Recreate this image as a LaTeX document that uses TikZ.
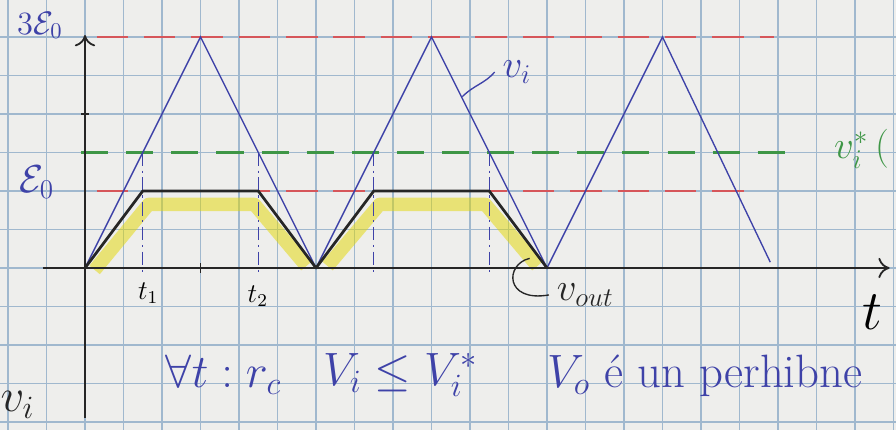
\documentclass[tikz,border=0pt]{standalone}
\usepackage{amsmath}
\usepackage{amssymb}
\usetikzlibrary{arrows.meta}
\definecolor{inkblue}{RGB}{62,66,168}
\definecolor{inkred}{RGB}{214,86,90}
\definecolor{inkgreen}{RGB}{62,150,70}
\definecolor{gridblue}{RGB}{160,184,206}
\definecolor{paper}{RGB}{238,238,236}
\newcommand{\Ezero}{\mathcal{E}_0}

\begin{document}
\begin{tikzpicture}[x=0.6cm,y=0.6cm]
    % paper and squares
    \fill[paper] (-2.208,-4.208) rectangle (21.065,6.961);
    \useasboundingbox (-2.208,-4.208) rectangle (21.065,6.961);
    \draw[gridblue, line width=0.6pt, step=0.6cm] (-2.208,-4.208) grid (21.065,6.961);

    \coordinate (xs) at (-1.1,0);
    \coordinate (xe) at (20.9,0);
    \coordinate (ys) at (0,-3.9);
    \coordinate (ye) at (0,6.05);

    % levels
    \draw[inkred, thick, dash pattern=on 14pt off 7pt] (0.3,6) -- (17.9,6);
    \draw[inkred, thick, dash pattern=on 14pt off 7pt] (0.3,2) -- (17.5,2);
    \draw[inkgreen, very thick, dash pattern=on 12pt off 8pt] (-0.1,3) -- (18.3,3);

    % highlight under the output
    \draw[yellow!75!olive, line width=6pt, opacity=0.5, line join=round]
        (0.25,-0.05) -- (1.65,1.65) -- (4.4,1.65) -- (5.75,0.05)
        (6.3,0.05) -- (7.65,1.65) -- (10.4,1.65) -- (11.75,0.05);

    % instants t1, t2
    \foreach \tx in {1.5,4.5,7.5,10.5}
        \draw[inkblue, thin, dash pattern=on 6pt off 2pt on 1pt off 2pt] (\tx,3) -- (\tx,-0.2);

    % input
    \draw[inkblue, semithick] (0,0) -- (3,6) -- (6,0) -- (9,6) -- (12,0) -- (15,6) -- (17.8,0.15);

    % output
    \draw[black!85, very thick, line join=round]
        (0,0) -- (1.5,2) -- (4.5,2) -- (6,0) -- (7.5,2) -- (10.5,2) -- (12,0);

    % axes
    \draw[black!85, thick, -{To[length=5pt,width=9pt]}] (xs) -- (xe);
    \draw[black!85, thick, -{To[length=5pt,width=9pt]}] (ys) -- (ye);
    \draw[black!85, thick] (3,-0.12) -- (3,0.12);
    \draw[black!85, thick] (-0.1,4) -- (0.1,4);

    \node[inkblue, font=\Large] (lv3) at (-1.17,6.3) {$3\Ezero$};
    \node[inkblue, font=\LARGE] (lv1) at (-1.25,2.23) {$\Ezero$};
    \node[inkgreen, font=\LARGE, anchor=west] (lvs) at (19.25,3.1) {$v_i^{*}\,($};

    \node[font=\large] (t1) at (1.64,-0.65) {$t_1$};
    \node[font=\large] (t2) at (4.49,-0.73) {$t_2$};
    \node[font=\Huge] (tt) at (20.44,-1.14) {$t$};

    \node[inkblue, font=\LARGE] (vi) at (11.22,5.09) {$v_i$};
    \coordinate (vihit) at (9.8,4.45);
    \draw[inkblue, semithick] (vihit) .. controls (10.1,4.75) and (10.4,4.8) .. (vi.west);

    \node[black!85, font=\LARGE, anchor=west] (vout) at (12.05,-0.7) {$v_{out}$};
    \coordinate (vohit) at (11.55,0.25);
    \draw[black!85, semithick] (vohit) .. controls (10.9,0.1) and (10.9,-0.9) .. (vout.west);

    \node[inkblue, font=\huge] (cond) at (3.6,-2.78) {$\forall t : r_c$};
    \node[inkblue, font=\huge] (ineq) at (8.2,-2.78) {$V_i \leq V_i^{*}$};
    \node[inkblue, font=\huge] (res) at (16.1,-2.8) {$V_o$ é un perhibne};
    \node[black!85, font=\huge] (vilab) at (-1.75,-3.55) {$v_i$};
\end{tikzpicture}
\end{document}
